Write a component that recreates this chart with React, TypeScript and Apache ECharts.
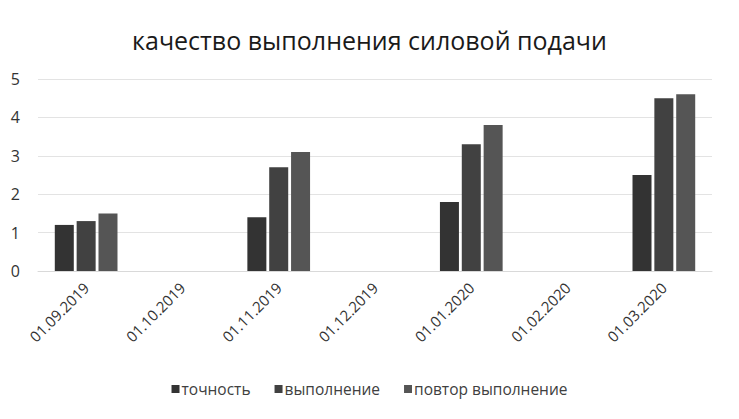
import React, { useEffect, useRef } from "react";
import * as echarts from "echarts";

const categories = ["01.09.2019", "01.10.2019", "01.11.2019", "01.12.2019", "01.01.2020", "01.02.2020", "01.03.2020"];
const seriesNames = ["точность", "выполнение", "повтор выполнение"];
const tochnost = [1.2, null, 1.4, null, 1.8, null, 2.5];
const vypolnenie = [1.3, null, 2.7, null, 3.3, null, 4.5];
const povtor = [1.5, null, 3.1, null, 3.8, null, 4.6];
const yTicks = [0, 1, 2, 3, 4, 5];
const colors = ["#333333", "#414141", "#555555"];

export default function App() {
  const ref = useRef<HTMLDivElement>(null);
  useEffect(() => {
    const chart = echarts.init(ref.current!, null, { renderer: "svg" });
    const font = "'Open Sans', 'Liberation Sans', sans-serif";
    const data = [tochnost, vypolnenie, povtor];
    chart.setOption({
      animation: false,
      backgroundColor: "#ffffff",
      textStyle: { fontFamily: font },
      title: {
        text: "качество выполнения силовой подачи",
        left: "center",
        top: 22,
        textStyle: { fontFamily: font, fontSize: 25, fontWeight: "normal", color: "#1a1a1a" },
      },
      legend: {
        bottom: 17,
        left: "center",
        itemWidth: 8,
        itemHeight: 8,
        itemGap: 24,
        icon: "rect",
        textStyle: { fontFamily: font, fontSize: 15.5, color: "#404040", padding: [0, 0, 0, -3] },
        data: seriesNames,
      },
      grid: { left: 38, right: 27, top: 79, bottom: 148, containLabel: false },
      xAxis: {
        type: "category",
        data: categories,
        axisLine: { show: true, lineStyle: { color: "#d9d9d9" } },
        axisTick: { show: false },
        axisLabel: { rotate: 45, fontSize: 15, color: "#333333", fontFamily: font, margin: 14, interval: 0 },
      },
      yAxis: {
        type: "value",
        min: yTicks[0],
        max: yTicks[yTicks.length - 1],
        interval: 1,
        axisLine: { show: false },
        axisTick: { show: false },
        axisLabel: { fontSize: 16, color: "#333333", fontFamily: font, margin: 18 },
        splitLine: { lineStyle: { color: "#e3e3e3" } },
      },
      series: seriesNames.map((name, i) => ({
        name,
        type: "bar",
        data: data[i],
        barWidth: 19,
        barGap: "15%",
        itemStyle: { color: colors[i] },
      })),
    });
    return () => chart.dispose();
  }, []);
  return <div ref={ref} style={{ position: "absolute", left: 0, top: 0, width: 739, height: 419 }} />;
}
